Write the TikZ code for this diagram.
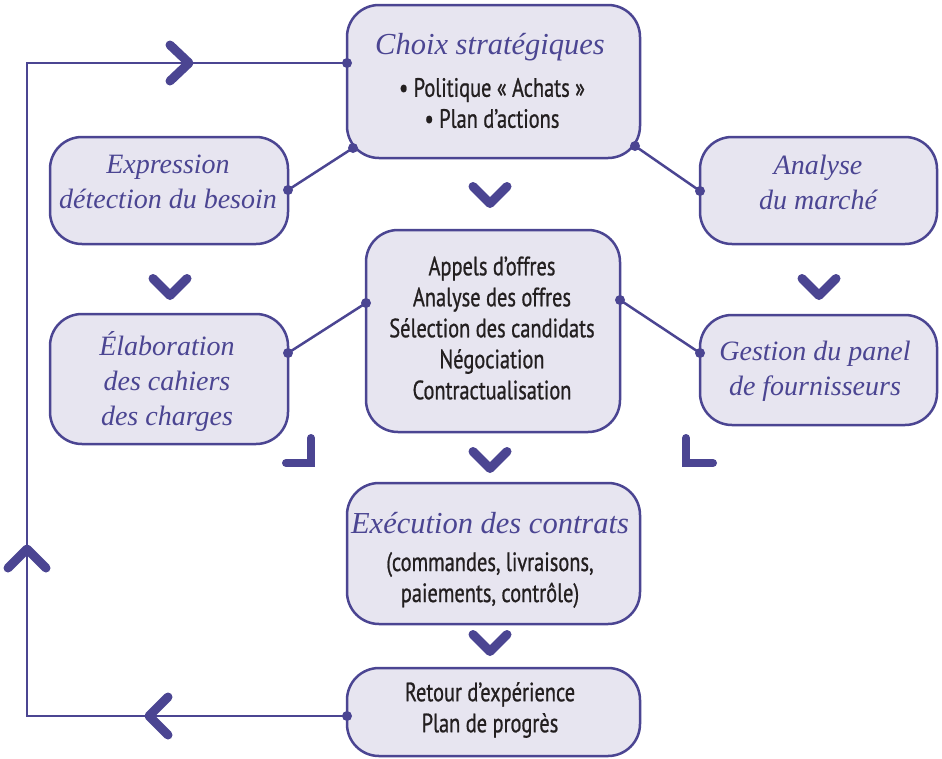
\documentclass[tikz,border=0pt]{standalone}
\usepackage{fontspec}
\setmainfont{Liberation Serif}
\newfontfamily\cond[FakeStretch=0.77, FakeBold=0.8]{PT Sans}
\definecolor{pur}{RGB}{75,69,146}
\definecolor{lav}{RGB}{231,229,240}
\definecolor{ink}{RGB}{35,31,32}
\tikzset{
  box/.style={draw=pur, fill=lav, line width=2.5pt, rounded corners=32pt, inner sep=0pt},
  ital/.style={text=pur, align=center, font=\fontsize{28}{35}\selectfont\itshape},
  ititle/.style={text=pur, align=center, font=\fontsize{30.5}{35}\selectfont\itshape},
  sans/.style={text=ink, align=center, font=\cond\fontsize{26.5}{31}\selectfont},
  link/.style={draw=pur, line width=2.5pt},
  dot/.style={fill=pur, draw=none},
  chev/.style={draw=pur, line width=9pt, line cap=round, line join=round},
}
\begin{document}
\begin{tikzpicture}[x=1pt,y=-1pt]
\useasboundingbox (0,0) rectangle (942,758);
% loop
\coordinate (lA) at (27,63);
\coordinate (lB) at (27,716);
\coordinate (pChoixL) at (347,63);
\coordinate (pRetL) at (347,716);
\draw[link] (pChoixL) -- (lA) -- (lB) -- (pRetL);
% boxes
\node[box, minimum width=293pt, minimum height=153pt] (choix) at (493.5,81.5) {};
\node[box, minimum width=238pt, minimum height=107pt] (expr) at (169,190.5) {};
\node[box, minimum width=237pt, minimum height=107pt] (marche) at (818.5,190.5) {};
\node[box, minimum width=254pt, minimum height=202pt] (centre) at (493,331) {};
\node[box, minimum width=238pt, minimum height=130pt] (elab) at (169,379) {};
\node[box, minimum width=237pt, minimum height=110pt] (panel) at (818.5,370) {};
\node[box, minimum width=293pt, minimum height=141pt] (exec) at (493.5,553.5) {};
\node[box, minimum width=293pt, minimum height=88pt] (retour) at (493.5,712) {};
% texts
\node[ititle] (tchoix) at (490,47) {Choix stratégiques};
\node[sans] (bchoix) at (492,103) {• Politique «~Achats~»\\• Plan d’actions};
\node[ital] (texpr) at (168,182) {Expression\\détection du besoin};
\node[ital] (tmarche) at (818,182) {Analyse\\du marché};
\node[sans] (tcentre) at (492,328) {Appels d’offres\\Analyse des offres\\Sélection des candidats\\Négociation\\Contractualisation};
\node[ital] (telab) at (167,381) {Élaboration\\des cahiers\\des charges};
\node[ital] (tpanel) at (815,371) {Gestion du panel\\de fournisseurs};
\node[ititle] (texec) at (490,523) {Exécution des contrats};
\node[sans] (bexec) at (490,580) {(commandes, livraisons,\\paiements, contrôle)};
\node[sans] (tretour) at (490,710) {Retour d’expérience\\Plan de progrès};
% links with dots
\coordinate (c1) at (353,148); \coordinate (e1) at (288,190);
\coordinate (c2) at (635,146); \coordinate (m1) at (700,191);
\coordinate (c3) at (366,303); \coordinate (el1) at (288,353);
\coordinate (c4) at (620,300); \coordinate (p1) at (700,353);
\draw[link] (c1) -- (e1);
\draw[link] (c2) -- (m1);
\draw[link] (c3) -- (el1);
\draw[link] (c4) -- (p1);
\foreach \p in {pChoixL,pRetL,c1,e1,c2,m1,c3,el1,c4,p1}
  \fill[dot] (\p) circle (5pt);
% chevrons
\foreach \x/\y in {490/195, 170/287, 819/287, 490/460, 490/643}
  \draw[chev] (\x-17,\y-8.5) -- (\x,\y+8.5) -- (\x+17,\y-8.5);
\draw[chev] (170,45) -- (189,63) -- (170,81);
\draw[chev] (8,568) -- (27,549) -- (46,568);
\draw[chev] (168,697) -- (149,716) -- (168,735);
% corner marks
\draw[chev, line width=8pt, line cap=round, line join=miter] (311,438) -- (311,463) -- (286,463);
\draw[chev, line width=8pt, line cap=round, line join=miter] (686,438) -- (686,463) -- (713,463);
\end{tikzpicture}
\end{document}
